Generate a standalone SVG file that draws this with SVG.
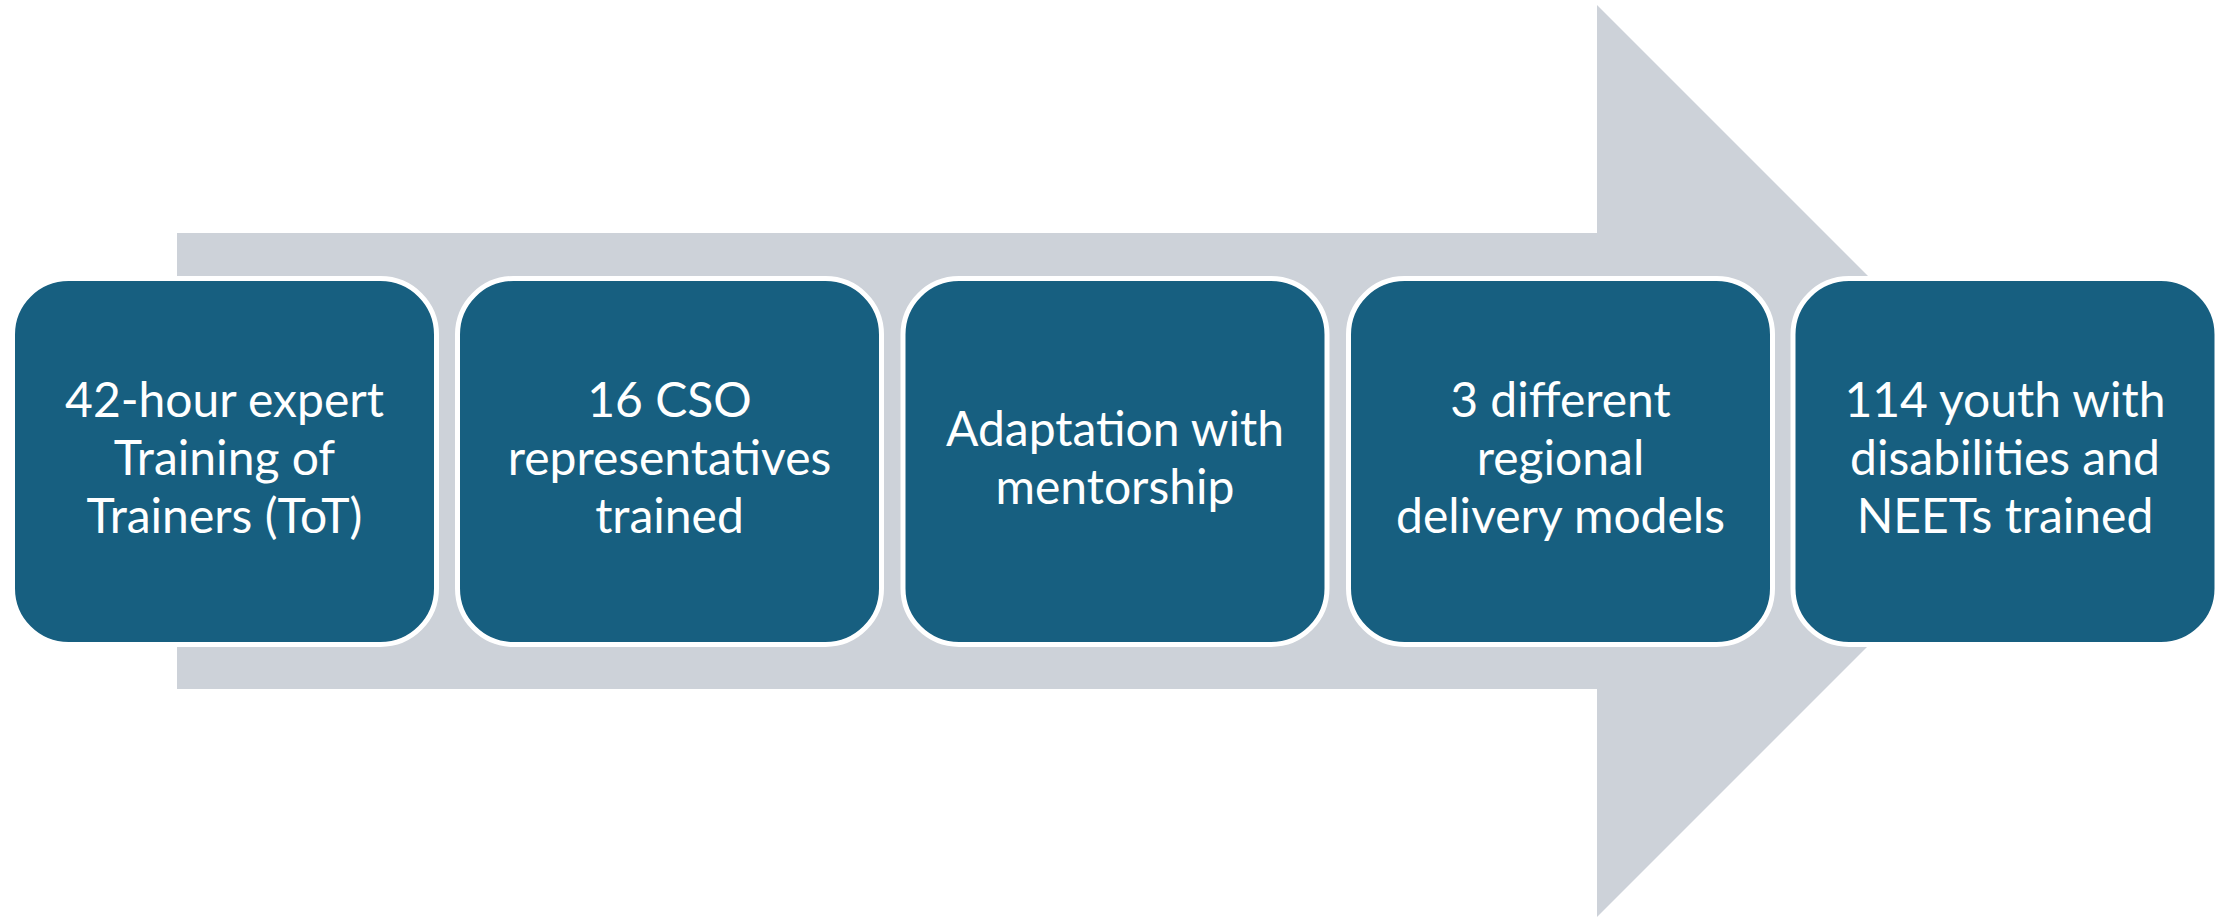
<svg xmlns="http://www.w3.org/2000/svg" width="2231" height="917" viewBox="0 0 2231 917">
  <style>
    .box { fill: #175F80; stroke: #FFFFFF; stroke-width: 5; }
    .lbl { font-family: Lato, "Open Sans", sans-serif; font-size: 48px; fill: #FFFFFF; text-anchor: middle; }
  </style>
  <rect x="0" y="0" width="2231" height="917" fill="#FFFFFF"/>
  <g id="connectors">
    <polygon id="arrow" points="177,233 1597,233 1597,5 2053,461 1597,917 1597,689 177,689" fill="#CDD2D9"/>
  </g>
  <g id="node1">
    <rect class="box" x="12.5" y="278.5" width="424" height="366" rx="56" ry="56"/>
    <text class="lbl" x="224.5" y="417">42-hour expert</text>
    <text class="lbl" x="224.5" y="475">Training of</text>
    <text class="lbl" x="224.5" y="533">Trainers (ToT)</text>
  </g>
  <g id="node2">
    <rect class="box" x="457.5" y="278.5" width="424" height="366" rx="56" ry="56"/>
    <text class="lbl" x="669.5" y="417">16 CSO</text>
    <text class="lbl" x="669.5" y="475">representatives</text>
    <text class="lbl" x="669.5" y="533">trained</text>
  </g>
  <g id="node3">
    <rect class="box" x="903" y="278.5" width="424" height="366" rx="56" ry="56"/>
    <text class="lbl" x="1115" y="446">Adaptation with</text>
    <text class="lbl" x="1115" y="504">mentorship</text>
  </g>
  <g id="node4">
    <rect class="box" x="1348.5" y="278.5" width="424" height="366" rx="56" ry="56"/>
    <text class="lbl" x="1560.5" y="417">3 different</text>
    <text class="lbl" x="1560.5" y="475">regional</text>
    <text class="lbl" x="1560.5" y="533">delivery models</text>
  </g>
  <g id="node5">
    <rect class="box" x="1793" y="278.5" width="424" height="366" rx="56" ry="56"/>
    <text class="lbl" x="2005" y="417">114 youth with</text>
    <text class="lbl" x="2005" y="475">disabilities and</text>
    <text class="lbl" x="2005" y="533">NEETs trained</text>
  </g>
</svg>
